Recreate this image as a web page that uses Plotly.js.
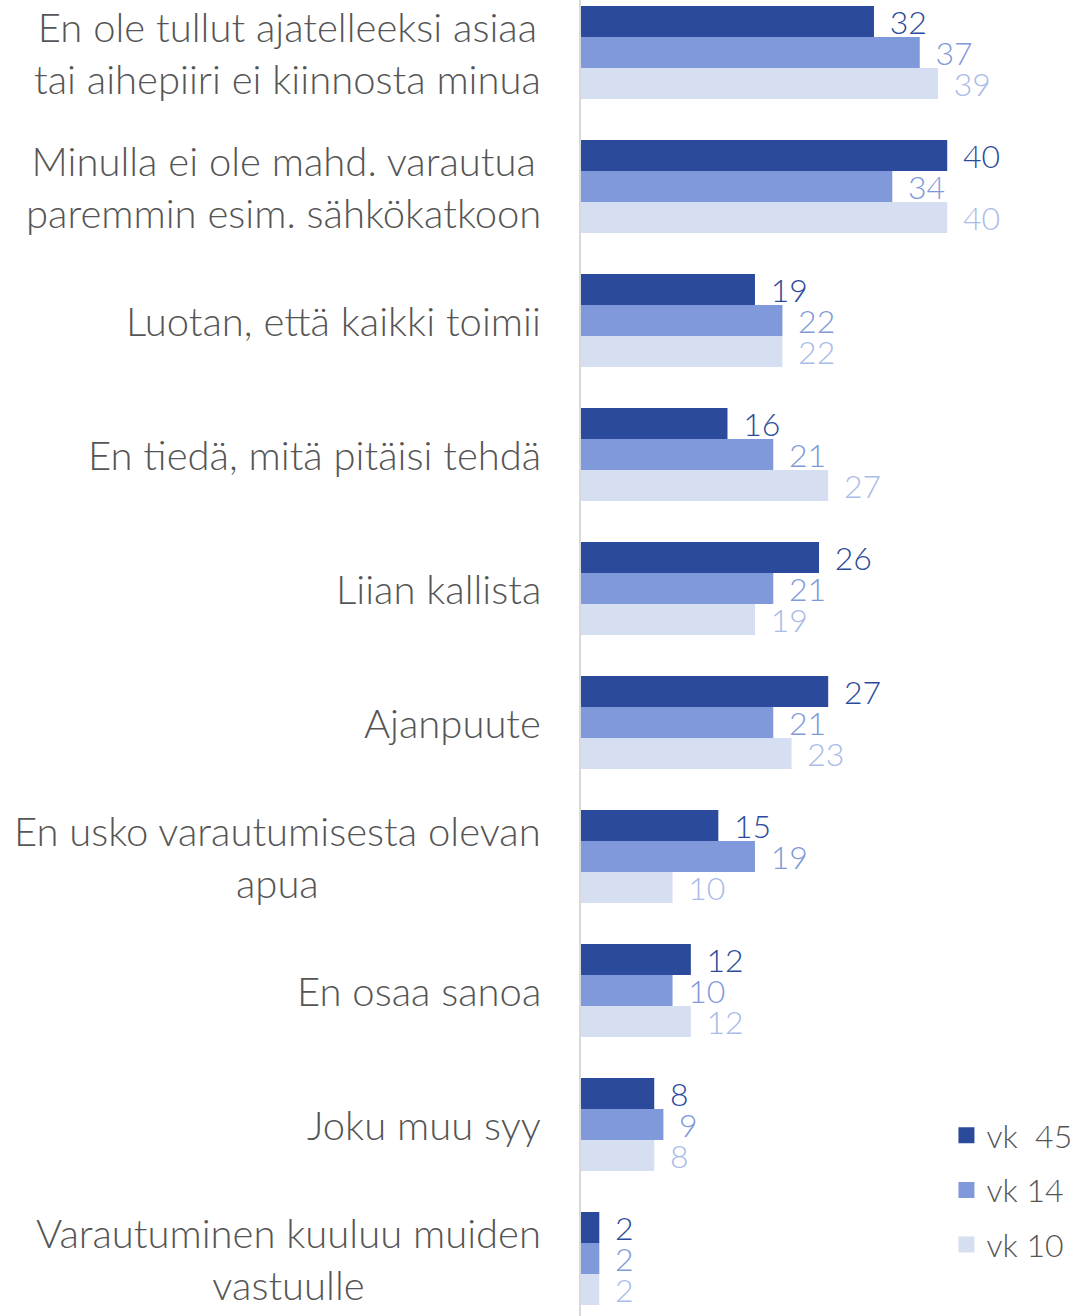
<!DOCTYPE html>
<html>
<head>
<meta charset="utf-8">
<script src="https://cdn.plot.ly/plotly-3.0.1.min.js"></script>
<style>html,body{margin:0;padding:0;background:#fff;}#chart{width:1082px;height:1316px;}</style>
</head>
<body>
<div id="chart"></div>
<script>
const categories = [
  "En ole tullut ajatelleeksi asiaa<br>tai aihepiiri ei kiinnosta minua",
  "Minulla ei ole mahd. varautua<br>paremmin esim. sähkökatkoon",
  "Luotan, että kaikki toimii",
  "En tiedä, mitä pitäisi tehdä",
  "Liian kallista",
  "Ajanpuute",
  "En usko varautumisesta olevan<br>apua",
  "En osaa sanoa",
  "Joku muu syy",
  "Varautuminen kuuluu muiden<br>vastuulle"
];
const seriesNames = ["vk\u00a0 45", "vk 14", "vk 10"];
const vk45 = [32, 40, 19, 16, 26, 27, 15, 12, 8, 2];
const vk14 = [37, 34, 22, 21, 21, 21, 19, 10, 9, 2];
const vk10 = [39, 40, 22, 27, 19, 23, 10, 12, 8, 2];

const barColors = ["#2b4a9b", "#8099da", "#d6def2"];
const labelColors = ["#2b4a9b", "#8099da", "#a9bbe8"];
const FONT = "Lato, 'Open Sans', sans-serif";

const seriesValues = [vk45, vk14, vk10];
const traces = seriesValues.map((vals, i) => ({
  type: "bar",
  orientation: "h",
  name: seriesNames[i],
  y: categories,
  x: vals,
  marker: { color: barColors[i] },
  text: vals.map(String),
  texttemplate: "\u00a0\u2009%{text}",
  textposition: "outside",
  constraintext: "none",
  cliponaxis: false,
  textfont: { family: FONT, size: 32, weight: 300, color: labelColors[i] },
  showlegend: false,
  hoverinfo: "skip"
}));

// legend entries (square swatches)
seriesNames.forEach((n, i) => {
  traces.push({
    type: "scatter",
    mode: "markers",
    name: n,
    x: [null],
    y: [null],
    marker: { symbol: "square", size: 20, color: barColors[i] },
    legendgroup: "g" + i,
    showlegend: true,
    hoverinfo: "skip"
  });
});

const annotations = categories.map(c => ({
  xref: "paper", yref: "y",
  x: 0, y: c,
  xanchor: "right", yanchor: "middle",
  xshift: -38,
  align: "center",
  text: c,
  showarrow: false,
  font: { family: FONT, size: 40, weight: 300, color: "#555555" }
}));

const layout = {
  width: 1082,
  height: 1316,
  margin: { l: 581, r: 89, t: 0, b: 0, pad: 0 },
  paper_bgcolor: "#ffffff",
  plot_bgcolor: "#ffffff",
  barmode: "group",
  bargap: 0.306,
  bargroupgap: 0,
  showlegend: true,
  legend: {
    x: 0.887, xanchor: "left",
    y: 0.158, yanchor: "top",
    traceorder: "grouped",
    tracegroupgap: 10,
    itemsizing: "trace",
    font: { family: FONT, size: 32, weight: 300, color: "#555555" },
    bgcolor: "rgba(0,0,0,0)"
  },
  xaxis: {
    range: [0, 45],
    showgrid: false,
    zeroline: false,
    showline: false,
    showticklabels: false,
    ticks: ""
  },
  yaxis: {
    type: "category",
    categoryorder: "array",
    categoryarray: categories,
    range: [9.429, -0.392],
    showgrid: false,
    zeroline: false,
    showline: true,
    linecolor: "#d9d9d9",
    linewidth: 2,
    showticklabels: false,
    ticks: ""
  },
  annotations: annotations,
  font: { family: FONT }
};

Plotly.newPlot("chart", traces, layout, { displayModeBar: false, staticPlot: true });
</script>
</body>
</html>
